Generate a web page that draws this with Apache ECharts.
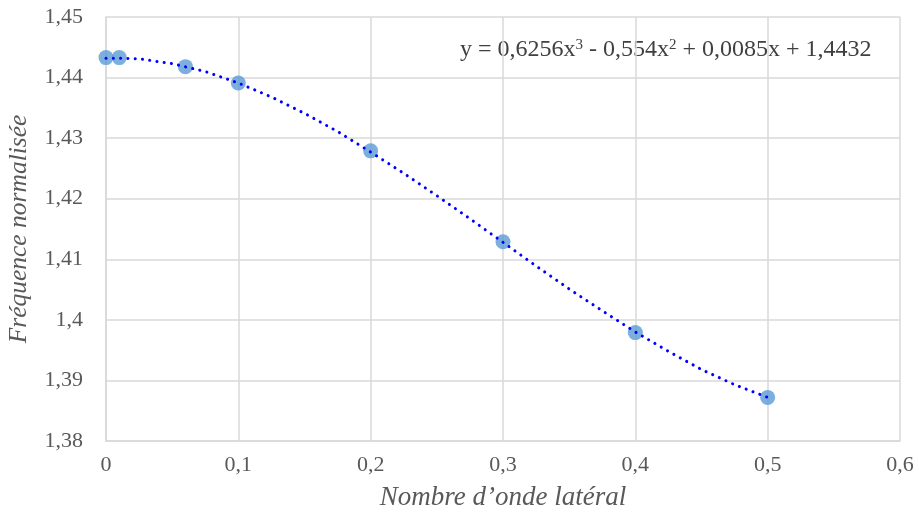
<!DOCTYPE html>
<html>
<head>
<meta charset="utf-8">
<script src="https://cdn.jsdelivr.net/npm/echarts@6/dist/echarts.min.js"></script>
<style>html,body{margin:0;padding:0;background:#fff}#c{width:919px;height:514px}</style>
</head>
<body>
<div id="c"></div>
<script>
// Measured points
var xValues = [0, 0.01, 0.06, 0.1, 0.2, 0.3, 0.4, 0.5];
var yValues = [1.4433, 1.4433, 1.4418, 1.4391, 1.4279, 1.4129, 1.3979, 1.3872];
// Trendline
var trendX = [0, 0.01, 0.025, 0.05, 0.075, 0.1, 0.125, 0.15, 0.175, 0.2, 0.225, 0.25, 0.275, 0.3, 0.325, 0.35, 0.375, 0.4, 0.425, 0.45, 0.475, 0.5];
var trendY = [1.4432, 1.4432, 1.4431, 1.4423, 1.4410, 1.4391, 1.4368, 1.4341, 1.4311, 1.4277, 1.4242, 1.4205, 1.4167, 1.4128, 1.4089, 1.4051, 1.4015, 1.3980, 1.3948, 1.3918, 1.3893, 1.3872];
var equationText = 'y = 0,6256x{s|3} - 0,554x{s|2} + 0,0085x + 1,4432';
var xTitle = 'Nombre d\u2019onde latéral';
var yTitle = 'Fréquence normalisée';

var font = '"Liberation Serif", "Times New Roman", serif';
function fmt(v){ return (Math.round(v*1000)/1000).toString().replace('.', ','); }

var chart = echarts.init(document.getElementById('c'));
chart.setOption({
  animation: false,
  grid: { left: 106, top: 17, right: 19, bottom: 73, outerBoundsMode: 'none', containLabel: false },
  xAxis: {
    type: 'value', min: 0, max: 0.6, interval: 0.1,
    name: xTitle, nameLocation: 'middle', nameGap: 43,
    nameTextStyle: { fontFamily: font, fontStyle: 'italic', fontSize: 27, color: '#595959' },
    axisLine: { show: true, lineStyle: { color: '#D9D9D9', width: 1.5 } },
    axisTick: { show: false },
    splitLine: { show: true, lineStyle: { color: '#D9D9D9', width: 1.5 } },
    axisLabel: { fontFamily: font, fontSize: 22, color: '#595959', margin: 13, formatter: fmt }
  },
  yAxis: {
    type: 'value', min: 1.38, max: 1.45, interval: 0.01,
    name: yTitle, nameLocation: 'middle', nameGap: 74, nameRotate: 90,
    nameTextStyle: { fontFamily: font, fontStyle: 'italic', fontSize: 25.5, color: '#595959' },
    axisLine: { show: true, lineStyle: { color: '#D9D9D9', width: 1.5 } },
    axisTick: { show: false },
    splitLine: { show: true, lineStyle: { color: '#D9D9D9', width: 1.5 } },
    axisLabel: { fontFamily: font, fontSize: 22, color: '#595959', margin: 23, formatter: fmt }
  },
  series: [
    {
      type: 'scatter',
      data: xValues.map(function(x, i){ return [x, yValues[i]]; }),
      symbolSize: 15,
      itemStyle: { color: '#5B9BD5' },
      z: 2
    },
    {
      type: 'line',
      data: trendX.map(function(x, i){ return [x, trendY[i]]; }),
      smooth: false,
      showSymbol: false,
      lineStyle: { color: '#0000FF', width: 3, type: [0.1, 7.2], cap: 'round' },
      z: 3
    }
  ],
  graphic: [{
    type: 'text', left: 460, top: 38,
    style: {
      text: equationText, fontFamily: font, fontSize: 24, fill: '#404040',
      rich: { s: { fontFamily: font, fontSize: 15, fill: '#404040', verticalAlign: 'top', padding: [0, 0, 8, 0] } }
    }
  }]
});
</script>
</body>
</html>
